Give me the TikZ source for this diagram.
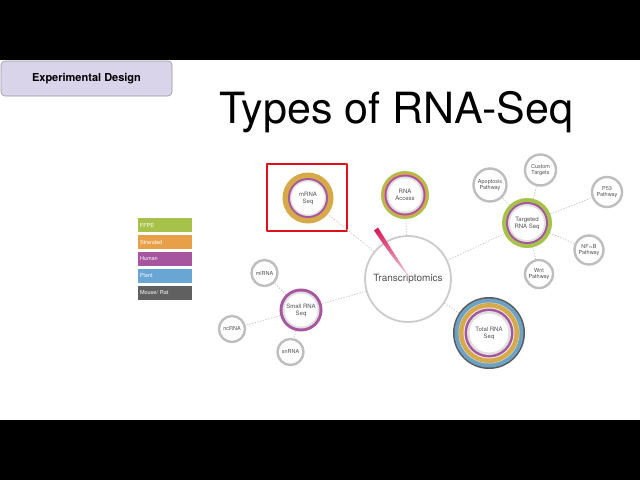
\documentclass[tikz,border=0pt]{standalone}
\usepackage{fontspec}
\setmainfont{TeX Gyre Heros}
\usepackage{tikz}
\definecolor{ffpegreen}{RGB}{166,194,74}
\definecolor{strandorange}{RGB}{232,160,72}
\definecolor{ringgold}{RGB}{214,170,72}
\definecolor{humanpurple}{RGB}{166,86,158}
\definecolor{plantblue}{RGB}{105,166,212}
\definecolor{ringblue}{RGB}{110,162,196}
\definecolor{mousegray}{RGB}{96,96,96}
\definecolor{lavender}{RGB}{218,212,235}
\definecolor{boxred}{RGB}{222,16,28}
\definecolor{ringgray}{RGB}{190,190,190}
\definecolor{txtgray}{RGB}{80,80,80}
\definecolor{needlered}{RGB}{214,20,84}

\begin{document}
\begin{tikzpicture}[line cap=round,line join=round,x=1pt,y=-1pt,
  sat/.style={circle,draw=ringgray,line width=2.4pt,fill=white,minimum size=#1,inner sep=0pt,align=center,font=\fontsize{5.5}{6}\selectfont,text=txtgray},
  hub/.style={circle,minimum size=#1,inner sep=0pt,align=center,font=\fontsize{6}{7}\selectfont,text=txtgray},
  conn/.style={draw=gray!45,dotted,line width=0.8pt},
  legend/.style={fill=#1,minimum width=54pt,minimum height=14pt,inner sep=0pt,text width=50pt,align=left,text=white,font=\fontsize{5.5}{6}\selectfont}]
\useasboundingbox (0,0) rectangle (640,480);
\fill[white] (0,0) rectangle (640,480);
\fill[black] (0,0) rectangle (640,60);
\fill[black] (0,420) rectangle (640,480);

\node[rounded corners=4pt,fill=lavender,draw=gray!80,line width=0.6pt,minimum width=171pt,minimum height=35pt,font=\bfseries\fontsize{11}{13}\selectfont] (expdesign) at (86.5,78.5) {Experimental Design};
\node[anchor=base,font=\fontsize{43}{48}\selectfont] (title) at (396.5,123) {Types of RNA-Seq};

% legend
\node[legend=ffpegreen] (lffpe) at (165,225) {FFPE};
\node[legend=strandorange] (lstrand) at (165,242) {Stranded};
\node[legend=humanpurple] (lhuman) at (165,259) {Human};
\node[legend=plantblue] (lplant) at (165,276) {Plant};
\node[legend=mousegray] (lmouse) at (165,293) {Mouse/ Rat};

% rings
\fill[ringgold] (308,198) circle (25.5pt);
\fill[humanpurple] (308,198) circle (20pt);
\fill[gray!25] (308,198) circle (18pt);
\fill[white] (308,198) circle (16.5pt);

\fill[ffpegreen] (405,195) circle (24pt);
\fill[strandorange] (405,195) circle (22pt);
\fill[humanpurple] (405,195) circle (20.5pt);
\fill[gray!25] (405,195) circle (18.5pt);
\fill[white] (405,195) circle (16.5pt);

\fill[ffpegreen] (527,223) circle (25pt);
\fill[humanpurple] (527,223) circle (21pt);
\fill[gray!25] (527,223) circle (19pt);
\fill[white] (527,223) circle (17pt);

\fill[gray!70!black] (489,333) circle (36pt);
\fill[ringblue] (489,333) circle (34.5pt);
\fill[gray!30] (489,333) circle (30.5pt);
\fill[ringgold] (489,333) circle (30pt);
\fill[gray!15] (489,333) circle (25.5pt);
\fill[humanpurple] (489,333) circle (24.5pt);
\fill[gray!25] (489,333) circle (22pt);
\fill[white] (489,333) circle (19.5pt);

\fill[humanpurple] (301,310) circle (21.5pt);
\fill[gray!25] (301,310) circle (18.5pt);
\fill[white] (301,310) circle (16.5pt);

% hubs
\node[circle,draw=gray!40,line width=1.8pt,minimum size=86pt,inner sep=0pt,font=\fontsize{10}{12}\selectfont,text=txtgray] (trans) at (408,279) {Transcriptomics};
\node[hub=51pt] (mrna) at (308,198) {mRNA\\Seq};
\node[hub=48pt] (access) at (405,195) {RNA\\Access};
\node[hub=50pt] (targeted) at (527,223) {Targeted\\RNA Seq};
\node[hub=72pt] (total) at (489,333) {Total RNA\\Seq};
\node[hub=43pt] (small) at (301,310) {Small RNA\\Seq};

\draw[boxred,line width=2.2pt] (267,164) rectangle (347,231);

% satellites
\node[sat=33pt] (apop) at (490,185) {Apoptosis\\Pathway};
\node[sat=31pt] (custom) at (540.5,170) {Custom\\Targets};
\node[sat=30pt] (p53) at (607,192) {P53\\Pathway};
\node[sat=29pt] (nfkb) at (589,250) {NF$\kappa$B\\Pathway};
\node[sat=28pt] (wnt) at (539,274) {Wnt\\Pathway};
\node[sat=26pt] (mirna) at (264.5,273) {miRNA};
\node[sat=26pt] (ncrna) at (232,329) {ncRNA};
\node[sat=26pt] (snrna) at (290.5,352) {snRNA};

% connectors
\draw[conn] (trans) -- (mrna);
\draw[conn] (trans) -- (access);
\draw[conn] (trans) -- (targeted);
\draw[conn] (trans) -- (total);
\draw[conn] (trans) -- (small);
\draw[conn] (targeted) -- (apop);
\draw[conn] (targeted) -- (custom);
\draw[conn] (targeted) -- (p53);
\draw[conn] (targeted) -- (nfkb);
\draw[conn] (targeted) -- (wnt);
\draw[conn] (small) -- (mirna);
\draw[conn] (small) -- (ncrna);
\draw[conn] (small) -- (snrna);

% needle
\shade[top color=needlered,bottom color=needlered!20] (374,230.5) -- (378,227.5) .. controls (392,250) .. (410.5,279) .. controls (390,254) .. cycle;
\end{tikzpicture}
\end{document}
